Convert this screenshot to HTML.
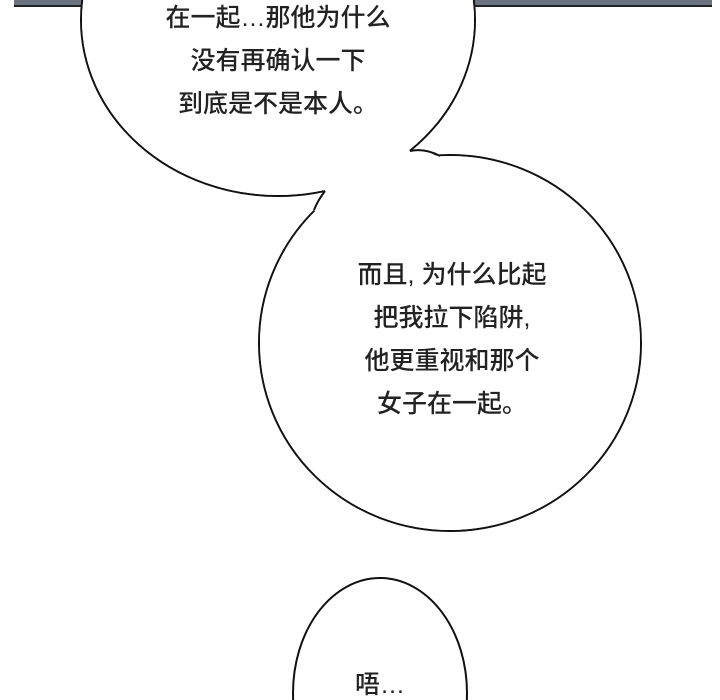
<!DOCTYPE html>
<html><head><meta charset="utf-8"><style>
html,body{margin:0;width:720px;height:700px;background:#fff;overflow:hidden}
body{position:relative}
svg{position:absolute;left:0;top:0}
.t{position:absolute;font-family:"Liberation Sans","Noto Sans CJK SC",sans-serif;font-size:25px;font-weight:500;color:#222;text-align:center;line-height:43px;white-space:nowrap}
</style></head><body>
<svg width="720" height="700">
<rect x="14" y="0" width="698" height="7" fill="#6b7280"/>
<rect x="14" y="5" width="698" height="2" fill="#222"/>
<g fill="#fff" stroke="#111" stroke-width="2">
<ellipse cx="278" cy="20" rx="197" ry="176"/>
<ellipse cx="450" cy="343" rx="191" ry="188"/>
<ellipse cx="380" cy="693" rx="87" ry="115"/>
</g>
<ellipse cx="278" cy="20" rx="196" ry="175" fill="#fff"/>
<ellipse cx="450" cy="343" rx="190" ry="187" fill="#fff"/>
<polygon points="410,151 440,156 450,343 314,210 325,191 278,20" fill="#fff"/>
<path d="M410 151 Q425 148 440 156" fill="none" stroke="#111" stroke-width="2"/>
<path d="M325 191 Q318 200 314 210" fill="none" stroke="#111" stroke-width="2"/>
</svg>
<div class="t" style="left:128px;top:-3px;width:300px">在一起…那他为什么<br>没有再确认一下<br>到底是不是本人。</div>
<div class="t" style="left:302px;top:254px;width:300px">而且, 为什么比起<br>把我拉下陷阱,<br>他更重视和那个<br>女子在一起。</div>
<div class="t" style="left:320px;top:664px;width:120px">唔…</div>
</body></html>
